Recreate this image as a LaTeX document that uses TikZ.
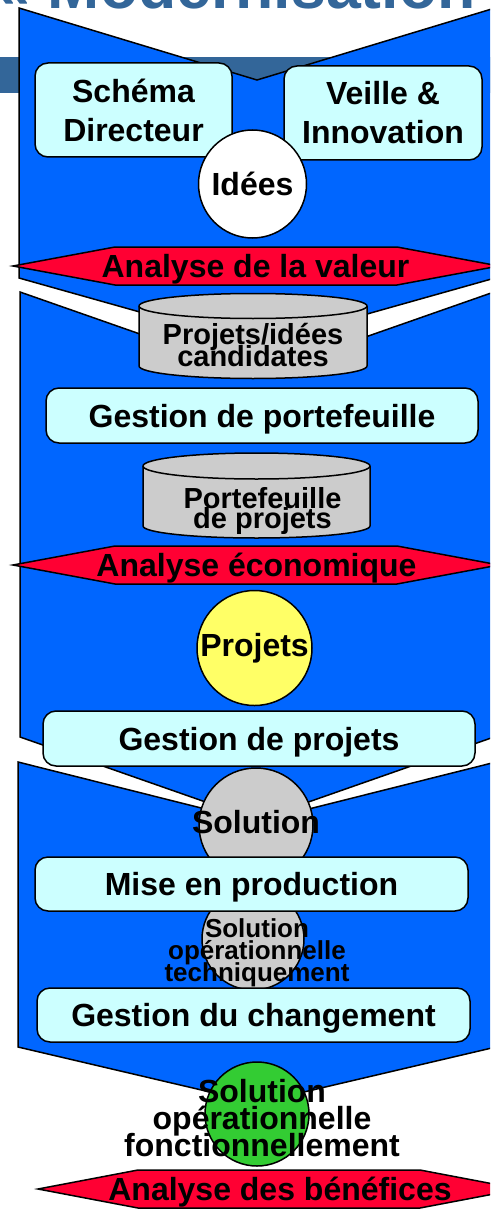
\documentclass[tikz,border=0pt]{standalone}
\usepackage{fontspec}
\setmainfont{Liberation Sans}
\usetikzlibrary{shapes.geometric}
\definecolor{chevblue}{HTML}{0066FF}
\definecolor{steel}{HTML}{336699}
\definecolor{boxcyan}{HTML}{CCFFFF}
\definecolor{hexred}{HTML}{FF0033}
\definecolor{cylgray}{HTML}{CCCCCC}
\definecolor{ideayellow}{HTML}{FFFF66}
\definecolor{okgreen}{HTML}{33CC33}
\newcommand{\squeeze}{\lineskiplimit=-100pt\relax}

\begin{document}
\begin{tikzpicture}[x=1pt,y=-1pt,line width=1.5pt,
  chevron/.style={draw,fill=chevblue,line join=miter},
  hexa/.style={draw,fill=hexred},
  cylbody/.style={draw,fill=cylgray},
  task/.style={draw,fill=boxcyan,rounded corners=13pt,inner sep=0pt,
    font=\fontsize{32}{39}\selectfont\bfseries,align=center},
  oneline/.style={text height=23pt,text depth=0pt},
  disc/.style={circle,draw,inner sep=0pt},
  lbl/.style={font=\fontsize{32}{39}\selectfont\bfseries,align=center,inner sep=0pt},
  tight/.style 2 args={inner sep=0pt,align=center,
    font=\fontsize{#1}{#2}\selectfont\bfseries\squeeze}]
  \useasboundingbox (0,0) rectangle (490,1209);
  \clip (0,0) rectangle (490,1209);

  \fill[steel] (0,57) rectangle (495,93);
  \node at (-5,9) [anchor=base west,inner sep=0pt,text=steel,
    font=\fontsize{62.6}{70}\selectfont\bfseries] (title) {« Modernisation};

  % idees
  \draw[chevron] (19,8) -- (257,80) -- (495,8) -- (495,278) -- (257,345) -- (19,278) -- cycle;
  \node at (133.5,110) [task,minimum width=197pt,minimum height=94pt] (schema) {Schéma\\Directeur};
  \node at (383,113) [task,minimum width=198pt,minimum height=94pt] (veille) {Veille \&\\Innovation};
  \node at (252.5,184) [disc,fill=white,minimum size=108pt,label={[lbl]center:Idées}] (idees) {};
  \draw[hexa] (13,266) -- (115,247) -- (397,247) -- (499,266) -- (397,285) -- (115,285) -- cycle;
  \node at (255.5,277) [lbl,anchor=base] (valeur) {Analyse de la valeur};

  % portefeuille
  \draw[chevron] (20,292) -- (257,375) -- (494,292) -- (494,737) -- (257,820) -- (20,737) -- cycle;
  \draw[cylbody] (139,306) -- (139,366) arc[start angle=180,end angle=360,x radius=114pt,y radius=12.5pt]
    -- (367,306) arc[start angle=0,end angle=180,x radius=114pt,y radius=12.5pt] -- cycle;
  \draw (139,306) arc[start angle=180,end angle=360,x radius=114pt,y radius=12.5pt];
  \node at (253,345.5) [tight={29}{22}] (candidates) {Projets/idées\\candidates};
  \node at (262,415.5) [task,oneline,minimum width=432pt,minimum height=55pt] (gportef) {Gestion de portefeuille};
  \draw[cylbody] (143,466) -- (143,526) arc[start angle=180,end angle=360,x radius=113.5pt,y radius=12pt]
    -- (370,466) arc[start angle=0,end angle=180,x radius=113.5pt,y radius=13pt] -- cycle;
  \draw (143,466) arc[start angle=180,end angle=360,x radius=113.5pt,y radius=13pt];
  \node at (262.5,510.5) [tight={29}{20}] (portef) {Portefeuille\\de projets};
  \draw[hexa] (13,565) -- (115,546) -- (397,546) -- (499,565) -- (397,584) -- (115,584) -- cycle;
  \node at (256.5,576) [lbl,anchor=base] (economique) {Analyse économique};
  \node at (254.5,648) [disc,fill=ideayellow,minimum size=115pt,label={[lbl]center:Projets}] (projets) {};

  % solution
  \draw[chevron] (18,762) -- (257,822) -- (496,762) -- (496,1047) -- (257,1103) -- (18,1047) -- cycle;
  \node at (259,738.5) [task,oneline,minimum width=432pt,minimum height=55pt] (gprojets) {Gestion de projets};
  \node at (256,825) [disc,fill=cylgray,minimum size=114pt,label={[lbl,yshift=3pt]center:Solution}] (solution) {};
  \node at (253,939) [disc,fill=cylgray,minimum size=102pt] (technique) {};
  \node at (257,953) [tight={26}{22}] (techlbl) {Solution\\opérationnelle\\techniquement};
  \node at (251.5,884) [task,oneline,minimum width=433pt,minimum height=54pt] (miseprod) {Mise en production};
  \node at (253.5,1015) [task,oneline,minimum width=433pt,minimum height=54pt] (gchange) {Gestion du changement};
  \node at (257,1114) [disc,fill=okgreen,minimum size=104pt] (fonction) {};
  \node at (262,1118) [tight={32}{27}] (fonclbl) {Solution\\opérationnelle\\fonctionnellement};
  \draw[hexa] (38,1189) -- (138,1170) -- (420,1170) -- (520,1189) -- (420,1208) -- (138,1208) -- cycle;
  \node at (280,1200) [lbl,anchor=base] (benefices) {Analyse des bénéfices};
\end{tikzpicture}
\end{document}
